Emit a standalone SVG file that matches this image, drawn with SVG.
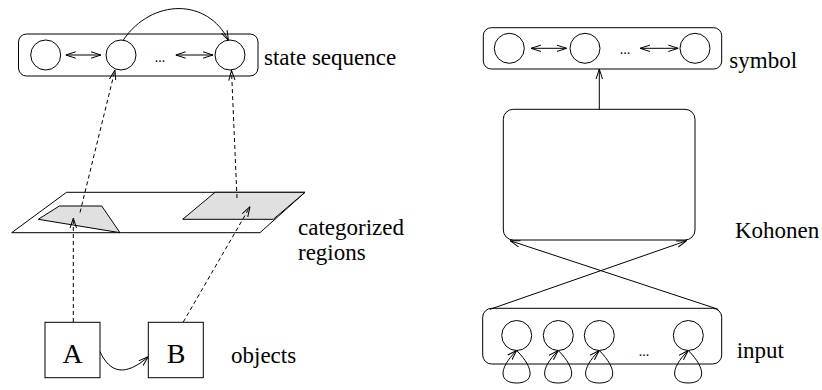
<svg xmlns="http://www.w3.org/2000/svg" width="822" height="390" viewBox="0 0 822 390">
<defs>
<marker id="arr" viewBox="0 0 10 8" refX="10" refY="4" markerWidth="10" markerHeight="8" markerUnits="userSpaceOnUse" orient="auto-start-reverse">
<path d="M0,0.8 L10,4 L0,7.2" fill="none" stroke="#000" stroke-width="1"/>
</marker>
</defs>
<style>
.ln{fill:none;stroke:#000;stroke-width:1}
.box{fill:#fff;stroke:#000;stroke-width:1}
.nd{fill:#fff;stroke:#000;stroke-width:1}
.dash{fill:none;stroke:#000;stroke-width:1;stroke-dasharray:4,3}
.reg{fill:#e0e0e0;stroke:#000;stroke-width:1}
text{font-family:'Liberation Serif','DejaVu Serif',serif;fill:#000}
.t{font-size:23px}
.big{font-size:28px;text-anchor:middle}
.dots{font-size:14px;text-anchor:middle}
.ah{marker-end:url(#arr)}
.dh{marker-start:url(#arr);marker-end:url(#arr)}
</style>

<!-- Left side -->
<g id="state-sequence">
<rect class="box" x="18.5" y="34" width="239.5" height="42" rx="8"/>
<circle class="nd" cx="45.7" cy="55" r="15"/>
<circle class="nd" cx="121" cy="55" r="15"/>
<circle class="nd" cx="230" cy="55" r="15"/>
<text class="dots" x="160" y="62" font-family="Liberation Serif, serif">...</text>
<text class="t" x="264" y="65" font-family="Liberation Serif, serif">state sequence</text>
</g>

<g id="categorized-regions">
<polygon class="box" points="66.5,192.3 305,192.3 260,232.7 11.7,232.7"/>
<polygon class="reg" points="59.3,206 101.7,206 120,232.7 38.3,219.3"/>
<polygon class="reg" points="215,192.3 305,192.3 273.3,219.3 182.7,219.3"/>
<text class="t" x="298" y="235" font-family="Liberation Serif, serif">categorized</text>
<text class="t" x="298" y="260" font-family="Liberation Serif, serif">regions</text>
</g>

<g id="object-A">
<rect class="box" x="45" y="322.3" width="55" height="55.4"/>
<text class="big" x="72.7" y="363.3" font-family="Liberation Serif, serif">A</text>
</g>
<g id="object-B">
<rect class="box" x="148.3" y="322.3" width="55" height="55.4"/>
<text class="big" x="176" y="363.3" font-family="Liberation Serif, serif">B</text>
</g>
<g id="objects-label">
<text class="t" x="231" y="363.3" font-family="Liberation Serif, serif">objects</text>
</g>

<!-- Right side -->
<g id="symbol">
<rect class="box" x="483.3" y="27.7" width="238.4" height="41.3" rx="8"/>
<circle class="nd" cx="509.3" cy="48.3" r="15"/>
<circle class="nd" cx="585" cy="48.3" r="15"/>
<circle class="nd" cx="695" cy="48.3" r="15"/>
<text class="dots" x="625" y="54" font-family="Liberation Serif, serif">...</text>
<text class="t" x="729.3" y="68" font-family="Liberation Serif, serif">symbol</text>
</g>

<g id="kohonen">
<rect class="box" x="503.3" y="109.3" width="191.7" height="130.7" rx="10"/>
<text class="t" x="735" y="238.3" font-family="Liberation Serif, serif">Kohonen</text>
</g>

<g id="input">
<rect class="box" x="482.7" y="308.3" width="239" height="55.7" rx="9"/>
<circle class="nd" cx="516.7" cy="335.5" r="15"/>
<circle class="nd" cx="558.3" cy="335.5" r="15"/>
<circle class="nd" cx="599.3" cy="335.5" r="15"/>
<circle class="nd" cx="688.3" cy="335.5" r="15"/>
<text class="dots" x="644" y="356" font-family="Liberation Serif, serif">...</text>
<text class="t" x="736.7" y="358.3" font-family="Liberation Serif, serif">input</text>
</g>

<g id="connectors">
<line class="ln dh" x1="65.7" y1="55" x2="101" y2="55"/>
<line class="ln dh" x1="175.7" y1="55" x2="213" y2="55"/>
<path class="ln ah" d="M123.3,40 C152,-2 208,-2 228.5,40.5"/>
<line class="dash ah" x1="80" y1="212.5" x2="115" y2="70"/>
<line class="dash ah" x1="237" y1="198" x2="231.5" y2="70.5"/>
<line class="dash ah" x1="73.3" y1="322" x2="73.3" y2="218"/>
<line class="dash ah" x1="183.3" y1="322" x2="250" y2="206.7"/>
<path class="ln ah" d="M100,351.7 C110,373 125,377 148.3,356.7"/>
<line class="ln ah" x1="599.3" y1="109.3" x2="599.3" y2="69"/>
<line class="ln ah" x1="490" y1="309.3" x2="686.7" y2="240.7"/>
<line class="ln ah" x1="718.3" y1="309.3" x2="510" y2="240.7"/>
<line class="ln dh" x1="531" y1="48.3" x2="566.7" y2="48.3"/>
<line class="ln dh" x1="640" y1="48.3" x2="678.3" y2="48.3"/>
<path class="ln ah" d="M516.7,350.5 C536,370 533,383 516.7,383 C500,383 497,370 516.7,350.5"/>
<path class="ln ah" d="M558.3,350.5 C577.6,370 574.6,383 558.3,383 C541.6,383 538.6,370 558.3,350.5"/>
<path class="ln ah" d="M599.3,350.5 C618.6,370 615.6,383 599.3,383 C582.6,383 579.6,370 599.3,350.5"/>
<path class="ln ah" d="M688.3,350.5 C707.6,370 704.6,383 688.3,383 C671.6,383 668.6,370 688.3,350.5"/>
</g>
</svg>
